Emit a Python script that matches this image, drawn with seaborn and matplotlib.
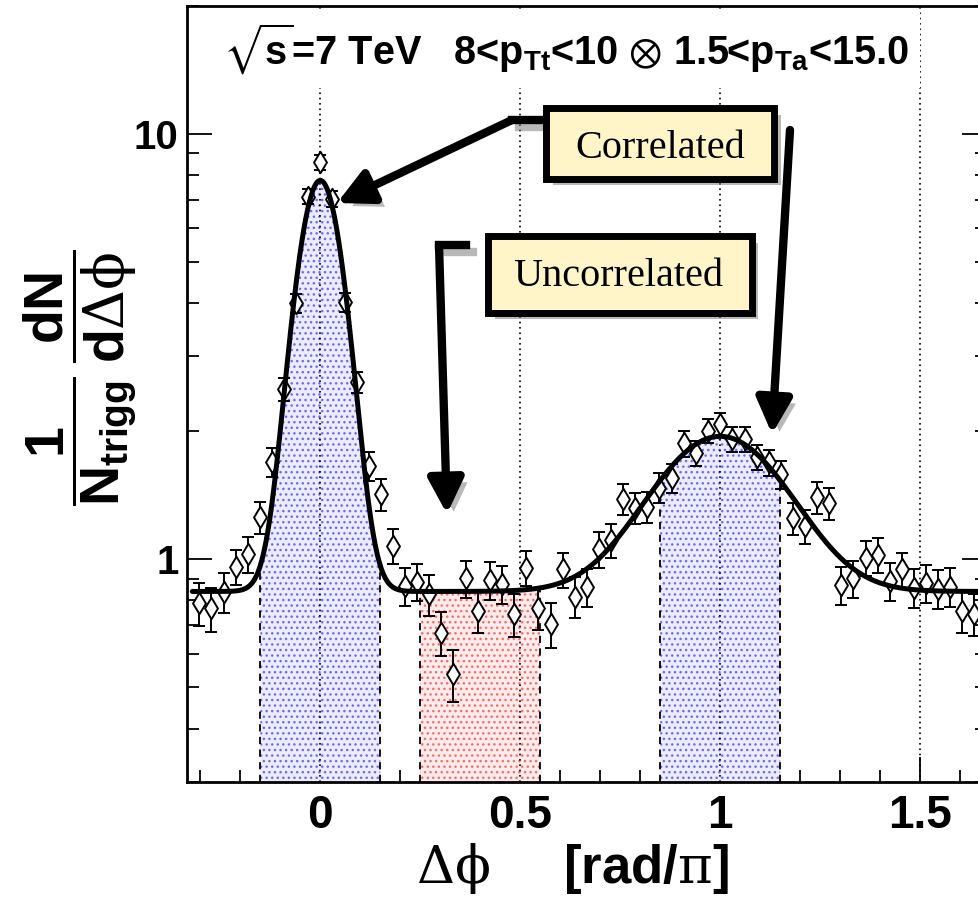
import numpy as np
import pandas as pd
import matplotlib
matplotlib.use("Agg")
import matplotlib.pyplot as plt
import matplotlib.patheffects as pe
from matplotlib.patches import Rectangle, FancyArrowPatch
from matplotlib.lines import Line2D
from matplotlib.ticker import FixedLocator, MultipleLocator, LogLocator, NullFormatter, FixedFormatter
import seaborn as sns

# ---------------- data ----------------
dphi = [-0.303, -0.273, -0.242, -0.212, -0.182, -0.152, -0.121, -0.091, -0.061, -0.030,
        0.000, 0.030, 0.061, 0.091, 0.121, 0.152, 0.182, 0.212, 0.242, 0.273,
        0.303, 0.333, 0.364, 0.394, 0.424, 0.455, 0.485, 0.515, 0.545, 0.576,
        0.606, 0.636, 0.667, 0.697, 0.727, 0.758, 0.788, 0.818, 0.848, 0.879,
        0.909, 0.939, 0.970, 1.000, 1.030, 1.061, 1.091, 1.121, 1.152, 1.182,
        1.212, 1.242, 1.273, 1.303, 1.333, 1.364, 1.394, 1.424, 1.455, 1.485,
        1.515, 1.545, 1.576, 1.606, 1.636]
yield_vals = [0.788, 0.766, 0.838, 0.959, 1.027, 1.255, 1.694, 2.51, 4.00, 7.12,
              8.58, 7.03, 4.02, 2.61, 1.66, 1.42, 1.075, 0.866, 0.886, 0.827,
              0.672, 0.536, 0.902, 0.756, 0.893, 0.873, 0.742, 0.956, 0.766, 0.705,
              0.947, 0.817, 0.861, 1.056, 1.108, 1.384, 1.323, 1.327, 1.474, 1.551,
              1.872, 1.773, 2.004, 2.078, 1.92, 1.915, 1.74, 1.688, 1.585, 1.249,
              1.198, 1.397, 1.354, 0.870, 0.902, 1.006, 1.024, 0.889, 0.947, 0.858,
              0.881, 0.853, 0.862, 0.756, 0.745]
yield_err = [0.09, 0.09, 0.09, 0.09, 0.10, 0.11, 0.13, 0.15, 0.20, 0.30,
             0.35, 0.30, 0.20, 0.15, 0.13, 0.12, 0.10, 0.09, 0.09, 0.09,
             0.08, 0.075, 0.09, 0.085, 0.09, 0.09, 0.085, 0.09, 0.085, 0.085,
             0.09, 0.09, 0.09, 0.10, 0.10, 0.115, 0.11, 0.11, 0.12, 0.12,
             0.13, 0.12, 0.13, 0.13, 0.13, 0.13, 0.12, 0.12, 0.12, 0.11,
             0.11, 0.12, 0.115, 0.09, 0.09, 0.095, 0.095, 0.09, 0.09, 0.09,
             0.09, 0.09, 0.09, 0.085, 0.085]

# fit parameters (two gaussians on a flat pedestal)
fit_baseline = 0.84
fit_near_amp = 6.93
fit_near_sigma = 0.053
fit_away_amp = 1.105
fit_away_sigma = 0.155
fit_range = [-0.32, 5 / 3]

# integration windows
region_lo = [-0.15, 0.25, 0.85]
region_hi = [0.15, 0.55, 1.15]
region_face = ['#ececfc', '#fcecec', '#ececfc']
region_dots = ['#6a6aff', '#ff6a6a', '#6a6aff']

x_ticks = [0, 0.5, 1, 1.5]
x_tick_labels = ['0', '0.5', '1', '1.5']
y_ticks = [1, 10]
y_tick_labels = ['1', '10']
guide_lines = [0, 0.5, 1, 1.5]

title_text = r'$\sqrt{s}$=7 TeV   8<p$_{Tt}$<10 $\otimes$ 1.5<p$_{Ta}$<15.0'
ylabel_text = r'$\dfrac{1}{N_{trigg}}\,\dfrac{dN}{d\mathsf{\Delta\phi}}$'
xlabel_text = r'$\mathsf{\Delta\phi}$     [rad/$\mathsf{\pi}$]'
box_labels = ['Correlated', 'Uncorrelated']

# ---------------- style ----------------
sns.set_theme(style='ticks')
plt.rcParams['font.family'] = ['Liberation Sans', 'DejaVu Sans']
plt.rcParams['mathtext.fontset'] = 'custom'
plt.rcParams['mathtext.rm'] = 'Liberation Sans:bold'
plt.rcParams['mathtext.bf'] = 'Liberation Sans:bold'
plt.rcParams['mathtext.it'] = 'Liberation Sans:bold'
plt.rcParams['mathtext.sf'] = 'DejaVu Serif'
plt.rcParams['mathtext.fallback'] = 'stixsans'
plt.rcParams['hatch.linewidth'] = 1.0
for k in ['text.color', 'axes.labelcolor', 'xtick.color', 'ytick.color', 'axes.edgecolor']:
    plt.rcParams[k] = 'black'

W, H = 979, 898
fig = plt.figure(figsize=(W / 100, H / 100), dpi=100)
ax = fig.add_axes([187 / W, 116.3 / H, 799.7 / W, 776 / H])


def fp(px, py):
    return (px / W, 1 - py / H)


def fit(x):
    x = np.asarray(x, dtype=float)
    return (fit_baseline
            + fit_near_amp * np.exp(-x ** 2 / (2 * fit_near_sigma ** 2))
            + fit_away_amp * np.exp(-(x - 1) ** 2 / (2 * fit_away_sigma ** 2)))


ax.set_yscale('log')
ax.set_xlim(-1 / 3, 5 / 3)
ax.set_ylim(0.3, 20)

# guide lines
for g in guide_lines:
    ax.axvline(g, color='black', lw=1.2, ls=(0, (1, 2.2)), zorder=1.5)

# shaded windows
for lo, hi, fc, dc in zip(region_lo, region_hi, region_face, region_dots):
    xs = np.linspace(lo, hi, 200)
    ax.fill_between(xs, 0.3, fit(xs), facecolor=fc, edgecolor=dc, hatch='...',
                    linewidth=0, zorder=1)
    ax.vlines([lo, hi], 0.3, fit([lo, hi]), colors='black', linestyles=(0, (4, 3)),
              lw=1.3, zorder=2)

df = pd.DataFrame({'dphi': dphi, 'y': yield_vals, 'err': yield_err})
ax.errorbar(df['dphi'], df['y'], yerr=df['err'], fmt='none', ecolor='black',
            elinewidth=1.4, capsize=4.5, capthick=1.4, zorder=3)
sns.scatterplot(data=df, x='dphi', y='y', marker='d', s=120, color='white',
                edgecolor='black', linewidth=1.4, zorder=4, legend=False, ax=ax)

xf = np.linspace(fit_range[0], fit_range[1], 800)
sns.lineplot(x=xf, y=fit(xf), color='black', lw=3.6, zorder=5, ax=ax, sort=False)

# axes / ticks
ax.set_xlabel('')
ax.set_ylabel('')
ax.xaxis.set_major_locator(FixedLocator(x_ticks))
ax.xaxis.set_major_formatter(FixedFormatter(x_tick_labels))
ax.xaxis.set_minor_locator(MultipleLocator(0.1))
ax.yaxis.set_major_locator(FixedLocator(y_ticks))
ax.yaxis.set_major_formatter(FixedFormatter(y_tick_labels))
ax.yaxis.set_minor_locator(LogLocator(base=10, subs=np.arange(2, 10)))
ax.yaxis.set_minor_formatter(NullFormatter())
ax.tick_params(which='both', direction='in', right=True, top=False, width=1.3,
               color='black')
ax.tick_params(which='major', length=18)
ax.tick_params(which='minor', length=8.5)
ax.tick_params(axis='x', which='major', pad=9, labelsize=33)
ax.tick_params(axis='y', which='major', pad=6, labelsize=29)
for lab in ax.get_xticklabels() + ax.get_yticklabels():
    lab.set_fontweight('bold')
for s in ax.spines.values():
    s.set_linewidth(2)
    s.set_color('black')
    s.set_visible(True)

# title, labels
fig.text(*fp(566, 65), title_text, ha='center', va='baseline', fontsize=28.5,
         fontweight='bold', bbox=dict(fc='white', ec='none', pad=8))
fig.text(*fp(80, 378), ylabel_text, ha='center', va='center', rotation=90,
         fontsize=40, fontweight='bold')
fig.text(*fp(572, 868), xlabel_text, ha='center', va='center', fontsize=38,
         fontweight='bold')

# annotation boxes
shadow_patch = [pe.SimplePatchShadow(offset=(5, -5), shadow_rgbFace='0.45', alpha=0.5), pe.Normal()]
shadow_line = [pe.SimpleLineShadow(offset=(5, -5), shadow_color='0.45', alpha=0.5), pe.Normal()]
boxes = [((546.5, 108.5), (774.5, 178.5), (660, 158)),
         ((488.5, 236.5), (751.5, 312.5), (618, 286))]
for (p0, p1, tpos), lab in zip(boxes, box_labels):
    x0, y1 = fp(*p0)
    x1, y0 = fp(*p1)
    r = Rectangle((x0, y0), x1 - x0, y1 - y0, transform=fig.transFigure,
                  fc='#fff5c8', ec='black', lw=5, zorder=6, path_effects=shadow_patch)
    fig.patches.append(r)
    fig.text(*fp(*tpos), lab, ha='center', va='baseline', fontsize=29,
             family='Liberation Serif', color='black', zorder=7)

# arrows
def seg(points):
    xs = [fp(*p)[0] for p in points]
    ys = [fp(*p)[1] for p in points]
    ln = Line2D(xs, ys, transform=fig.transFigure, color='black', lw=6,
                solid_capstyle='projecting', solid_joinstyle='miter', zorder=6,
                path_effects=shadow_line)
    fig.lines.append(ln)


def arrow(p_from, p_to):
    a = FancyArrowPatch(fp(*p_from), fp(*p_to), transform=fig.transFigure,
                        arrowstyle='-|>,head_length=0.75,head_width=0.38',
                        mutation_scale=28, lw=6, color='black', zorder=6,
                        shrinkA=0, shrinkB=0, path_effects=shadow_patch)
    fig.patches.append(a)


seg([(543, 120), (512, 120)])
arrow((512, 120), (337, 203))
arrow((790, 130), (772, 434))
seg([(466, 245), (439, 245)])
arrow((439, 245), (447, 514))

fig.savefig('out.png', dpi=100)
